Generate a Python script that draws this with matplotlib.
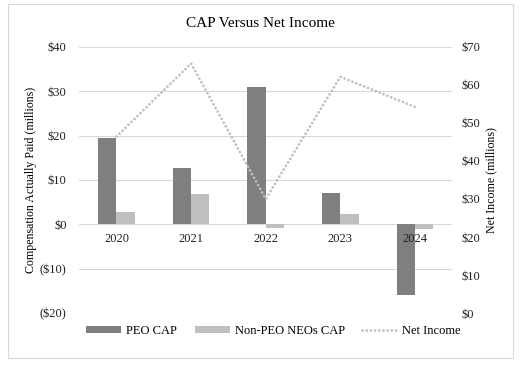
import numpy as np
import matplotlib.pyplot as plt
from matplotlib.patches import Rectangle

# Data (millions)
years = ["2020", "2021", "2022", "2023", "2024"]
peo_cap = [19.4, 12.7, 31.0, 7.0, -16.0]
non_peo_cap = [2.8, 6.8, -0.8, 2.3, -1.0]
net_income = [46.4, 65.6, 30.0, 62.1, 54.2]

left_ticks = [-20, -10, 0, 10, 20, 30, 40]
right_ticks = [0, 10, 20, 30, 40, 50, 60, 70]

plt.rcParams['font.family'] = ['Liberation Serif', 'DejaVu Serif']

fig = plt.figure(figsize=(5.21, 3.68), dpi=100, facecolor='white')
ax = fig.add_axes([0.152, 0.149, 0.716, 0.724])
ax2 = ax.twinx()

x = np.arange(len(years))
w = 0.245
ax.bar(x - w/2, peo_cap, w, color='#7f7f7f', label='PEO CAP', zorder=2)
ax.bar(x + w/2, non_peo_cap, w, color='#bfbfbf', label='Non-PEO NEOs CAP', zorder=2)
ln, = ax2.plot(x, net_income, color='#bfbfbf', lw=2.0, linestyle=(0, (0.01, 1.5)),
               dash_capstyle='round', label='Net Income')

ax.set_xlim(-0.5, len(years) - 0.5)
ax.set_ylim(-20, 40)
ax2.set_ylim(0, 70)
ax.set_yticks(left_ticks)
ax.set_yticklabels(['(${})'.format(-v) if v < 0 else '${}'.format(v) for v in left_ticks])
ax2.set_yticks(right_ticks)
ax2.set_yticklabels(['${}'.format(v) for v in right_ticks])

ax.grid(axis='y', color='#d9d9d9', lw=0.8, zorder=0)
ax.set_axisbelow(True)
for a in (ax, ax2):
    for s in a.spines.values():
        s.set_visible(False)
    a.tick_params(length=0, labelsize=9, colors='#222222')
ax.tick_params(axis='y', pad=9)
ax2.tick_params(axis='y', pad=7)

# year labels sit just under the zero line, drawn over the bars
ax.spines['bottom'].set_position(('data', 0))
ax.set_xticks(x)
ax.set_xticklabels(years)
ax.tick_params(axis='x', pad=6)
ax.xaxis.set_zorder(5)

ax.set_ylabel('Compensation Actually Paid (millions)', fontsize=8.6)
ax2.set_ylabel('Net Income (millions)', fontsize=8.6)
ax.yaxis.set_label_coords(-0.112, 0.5)
ax2.yaxis.set_label_coords(1.088, 0.5)

fig.text(0.5, 0.935, 'CAP Versus Net Income', ha='center', va='center', fontsize=11)

h1, l1 = ax.get_legend_handles_labels()
fig.legend(h1 + [ln], l1 + ['Net Income'], loc='center', ncol=3,
           bbox_to_anchor=(0.525, 0.101), frameon=False, fontsize=9,
           handlelength=2.8, handleheight=0.5, columnspacing=1.4, handletextpad=0.4)

fig.patches.append(Rectangle((8/521, 1 - 358/368), 505/521, 354/368,
                             transform=fig.transFigure, fill=False,
                             edgecolor='#d9d9d9', lw=0.8))

fig.savefig('out.png', dpi=100)
